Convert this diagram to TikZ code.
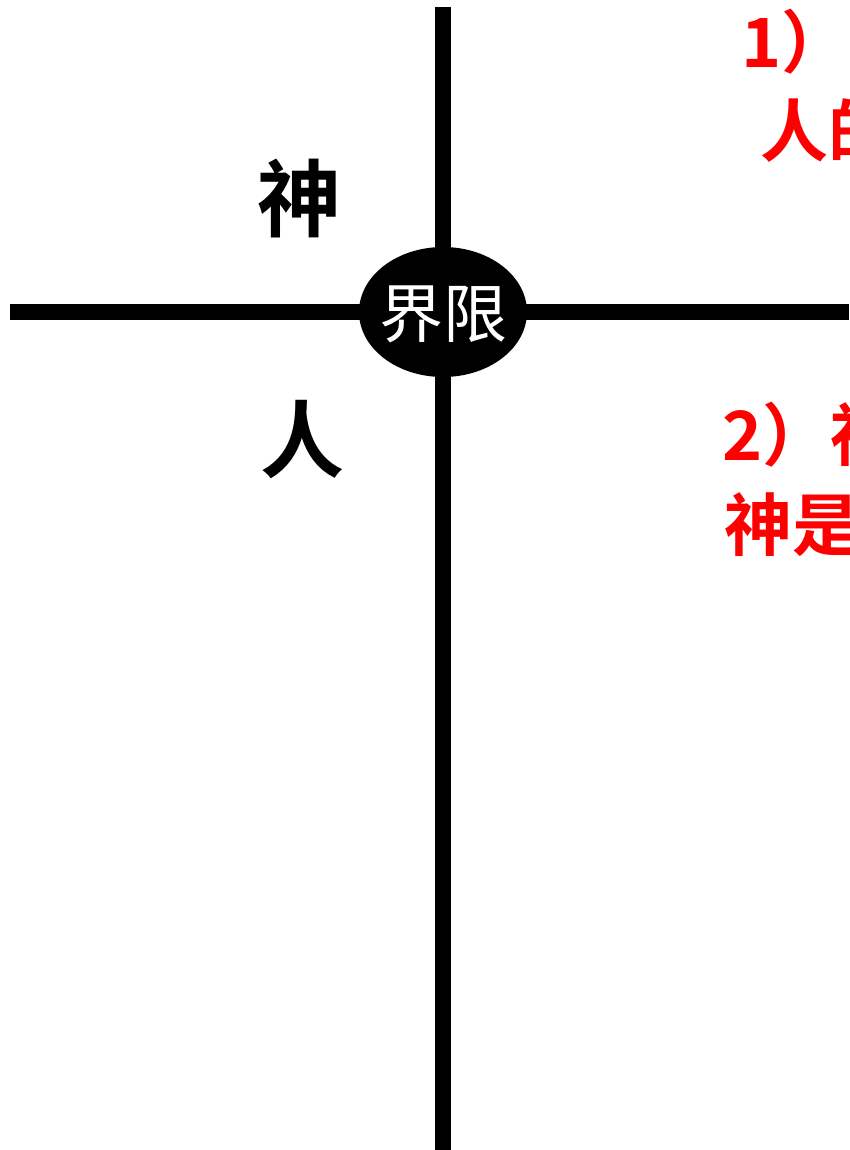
\documentclass[tikz,border=0pt]{standalone}
\usepackage{fontspec}
\usetikzlibrary{shapes.geometric}
\newfontfamily\cjk{Noto Sans CJK SC}
\newfontfamily\cjkb{Noto Sans CJK SC Bold}
\definecolor{myred}{RGB}{255,0,0}
\begin{document}
\begin{tikzpicture}[x=1pt,y=-1pt,
  bar/.style={line width=16pt,line cap=butt,black},
  lbl/.style={font=\cjkb\fontsize{84}{84}\selectfont,inner sep=0pt,text=black},
  redtxt/.style={font=\cjkb\fontsize{68}{68}\selectfont,inner sep=0pt,text=myred,anchor=base west}]
\useasboundingbox (0,0) rectangle (849,1150);
\clip (0,0) rectangle (849,1150);
\coordinate (vtop) at (443,7);
\coordinate (vbot) at (443,1150);
\coordinate (hl) at (10,312);
\coordinate (hr) at (849,312);
\draw[bar] (vtop) -- (vbot);
\draw[bar] (hl) -- (hr);
\node[ellipse,fill=black,minimum width=168pt,minimum height=130pt,inner sep=0pt] (lim) at (443,312) {};
\node[font=\cjk\fontsize{64}{64}\selectfont,text=white,inner sep=0pt] (limt) at (443,314) {界限};
\node[lbl] (god) at (299,198) {神};
\node[lbl] (man) at (302,440) {人};
\node[redtxt] (t1) at (741,68) {1）};
\node[redtxt] (t1b) at (760,157) {人的};
\node[redtxt] (t2) at (722,460) {2）神};
\node[redtxt] (t2b) at (724,550) {神是};
\end{tikzpicture}
\end{document}
